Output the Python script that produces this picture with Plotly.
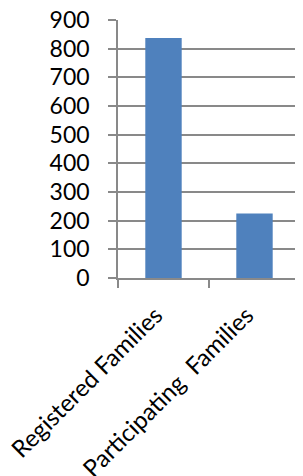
import plotly.graph_objects as go

categories = ["Registered Families", "Participating  Families"]
values = [837, 225]
y_ticks = [0, 100, 200, 300, 400, 500, 600, 700, 800, 900]

fig = go.Figure(go.Bar(x=categories, y=values, marker=dict(color="#4F81BD", line=dict(width=0)), width=0.4))

fig.update_layout(
    width=295, height=468,
    margin=dict(l=110, r=3, t=12, b=198),
    plot_bgcolor="white", paper_bgcolor="white",
    font=dict(family="Lato", size=23, color="black"),
    showlegend=False,
)
fig.update_yaxes(
    range=[0, 900], tickvals=y_ticks, ticktext=[str(v) for v in y_ticks],
    showgrid=True, gridcolor="#898989", gridwidth=1.5,
    showline=True, linecolor="#898989", linewidth=1.5,
    ticks="outside", ticklen=8, tickcolor="#898989", tickwidth=1.5,
    ticklabelstandoff=14, zeroline=False, ticklabeloverflow="allow",
    automargin=False,
)
fig.update_xaxes(
    showline=True, linecolor="#898989", linewidth=1.5,
    ticks="outside", ticklen=8, tickcolor="#898989", tickwidth=1.5,
    tickson="boundaries", tickangle=-45, showgrid=False,
    ticklabelshift=-8, ticklabelstandoff=12, ticklabeloverflow="allow",
    tickfont=dict(size=24), automargin=False,
)
fig.write_html("out.html")
